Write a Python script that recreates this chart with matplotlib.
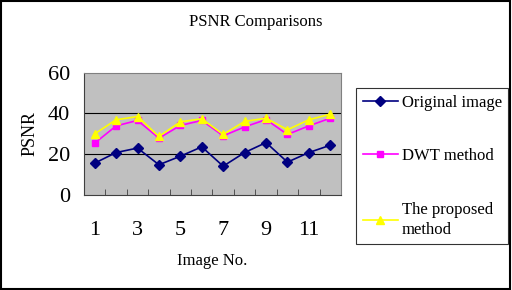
import numpy as np
import matplotlib.pyplot as plt
from matplotlib.patches import Rectangle

# Data
image_no = np.arange(1, 13)
original = [15.6, 20.8, 23.0, 14.8, 19.0, 23.6, 14.1, 20.8, 25.7, 16.1, 20.8, 24.4]
dwt = [25.4, 33.9, 36.6, 27.9, 34.1, 36.6, 29.0, 33.4, 37.0, 29.7, 33.9, 37.7]
proposed = [30.0, 36.9, 38.5, 28.7, 35.9, 37.4, 29.7, 36.1, 37.7, 32.0, 36.9, 39.7]
x_labels = [1, 3, 5, 7, 9, 11]

plt.rcParams['font.family'] = ['Liberation Serif', 'DejaVu Serif']

fig = plt.figure(figsize=(5.12, 2.90), dpi=100)
fig.patches.append(Rectangle((0.002, 0.004), 0.994, 0.992, transform=fig.transFigure,
                             fill=False, edgecolor='black', linewidth=1.5))

ax = fig.add_axes([0.164, 0.328, 0.502, 0.421])
ax.set_facecolor('#C0C0C0')

ax.plot(image_no, original, color='#000080', marker='D', markersize=5, linewidth=1.2,
        label='Original image')
ax.plot(image_no, dwt, color='#FF00FF', marker='s', markersize=5, linewidth=1.2,
        label='DWT method')
ax.plot(image_no, proposed, color='#FFFF00', marker='^', markersize=6, linewidth=1.2,
        label='The proposed\nmethod')

ax.set_xlim(0.5, 12.5)
ax.set_ylim(0, 60)
ax.set_yticks([0, 20, 40, 60])
ax.set_xticks(x_labels)
ax.set_xticks(np.arange(1.5, 12.5, 1), minor=True)
ax.tick_params(axis='x', which='major', length=0, labelsize=16, pad=19)
ax.tick_params(axis='x', which='minor', direction='in', length=4, color='#404040')
ax.tick_params(axis='y', length=0, labelsize=16, pad=10)
for y in [20, 40]:
    ax.axhline(y, color='black', linewidth=0.8, zorder=1)

for s in ax.spines.values():
    s.set_color('#808080')
ax.spines['left'].set_color('#404040')
ax.spines['bottom'].set_color('#404040')

ax.set_xlabel('Image No.', fontsize=12, labelpad=9)
ax.set_ylabel('PSNR', fontsize=13, labelpad=7)
fig.text(0.5, 0.924, 'PSNR Comparisons', ha='center', va='center', fontsize=12)

leg = fig.legend(loc='upper left', bbox_to_anchor=(0.695, 0.697), fontsize=12,
                 frameon=True, fancybox=False, edgecolor='black', labelspacing=2.25,
                 handlelength=2.1, handletextpad=0.25, borderpad=0.4, borderaxespad=0)
leg.get_frame().set_linewidth(0.8)
leg.get_texts()[2].set_linespacing(1.35)

plt.savefig('out.png', dpi=100)
